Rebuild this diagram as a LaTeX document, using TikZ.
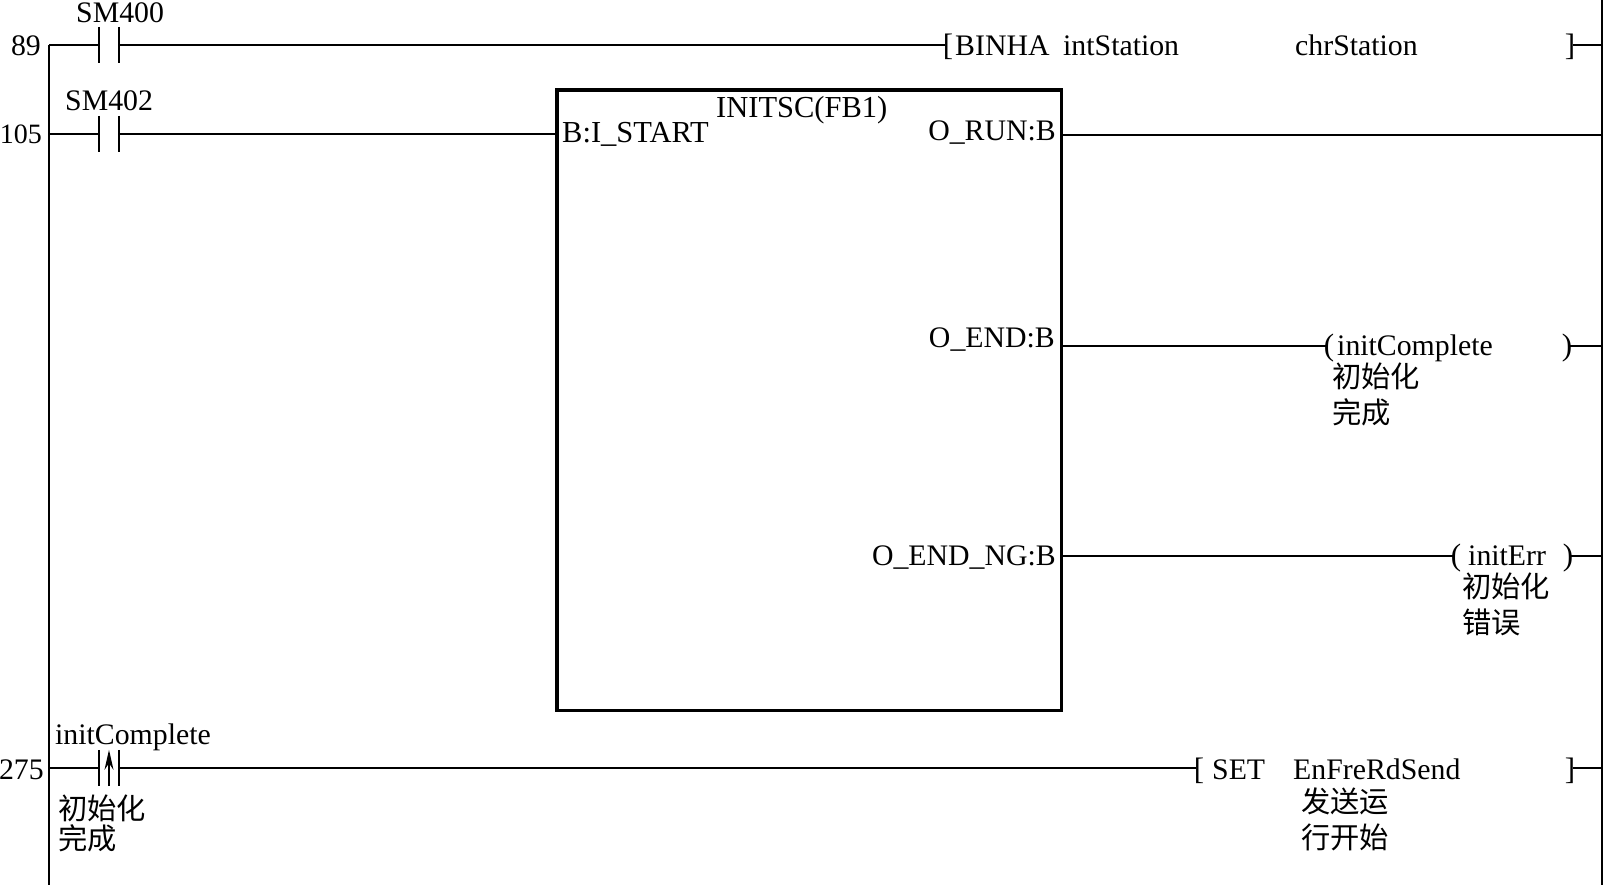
\documentclass[tikz,border=0pt]{standalone}
\usepackage{fontspec}
\setmainfont{Liberation Serif}
\newfontfamily\cjk{Noto Sans CJK SC}
\usetikzlibrary{arrows.meta}
\tikzset{
    lbl/.style={anchor=base west, inner sep=0pt, font=\fontsize{29.8}{32}\selectfont},
    lblr/.style={lbl, anchor=base east},
    wide/.style={font=\fontsize{30.5}{32}\selectfont},
    cn/.style={anchor=west, inner sep=0pt, font=\fontsize{29.3}{32}\selectfont\cjk},
    tip/.style={anchor=base, inner sep=0pt, inner xsep=-2pt, font=\fontsize{31}{32}\selectfont},
    contact/.style={minimum width=20pt, minimum height=36pt, inner sep=0pt},
    rung/.style={line width=1.6pt},
    bar/.style={line width=2.2pt},
    fb/.style={draw, line width=3.5pt, minimum width=504.5pt, minimum height=620.5pt, inner sep=0pt}
}
\begin{document}
\begin{tikzpicture}[x=1pt, y=-1pt]
    \useasboundingbox (0,0) rectangle (1603,885);

    % Rails
    \coordinate (railtop) at (49,45);
    \coordinate (railbot) at (49,885);
    \coordinate (rightop) at (1602,0);
    \coordinate (rightbot) at (1602,885);
    \draw[line width=1.3pt] (railtop) -- (railbot);
    \draw[line width=1.3pt] (rightop) -- (rightbot);
    \coordinate (r1) at (49,45);
    \coordinate (r2) at (49,134);
    \coordinate (r3) at (49,768);
    \coordinate (e1) at (1602,45);
    \coordinate (e2) at (1602,135);
    \coordinate (e3) at (1602,346);
    \coordinate (e4) at (1602,556);
    \coordinate (e5) at (1602,768);

    % Step numbers
    \node[lblr] (n89) at (41,56) {89};
    \node[lblr, font=\fontsize{28}{32}\selectfont] (n105) at (42,144) {105};
    \node[lblr] (n275) at (44,779) {275};

    % Contacts
    \node[contact] (c1) at (109,45) {};
    \node[contact] (c2) at (109,134) {};
    \node[contact] (c3) at (109,768) {};
    \foreach \c in {c1,c2,c3}
        \draw[bar] (\c.north west) -- (\c.south west) (\c.north east) -- (\c.south east);
    \draw[line width=1.5pt, -{Stealth[length=20pt,width=9pt]}] (c3.south) -- (c3.north);
    \node[lbl] (sm400) at (76,23) {SM400};
    \node[lbl] (sm402) at (65,111) {SM402};
    \node[lbl] (cmpA) at (55,744) {initComplete};
    \node[cn] (cmpB) at (58,808) {初始化};
    \node[cn] (cmpC) at (58,838) {完成};

    % Function block
    \node[fb] (fb1) at (809.25,400.25) {};
    \node[lbl, wide] (title) at (716,118) {INITSC(FB1)};
    \node[lbl, wide] (start) at (562,143) {B:I\_START};
    \node[lblr] (orun) at (1056,141) {O\_RUN:B};
    \node[lblr] (oend) at (1055,347) {O\_END:B};
    \node[lblr] (oendng) at (1056,565) {O\_END\_NG:B};
    \coordinate (pin1) at (fb1.west |- r2);
    \coordinate (pin2) at (fb1.east |- e2);
    \coordinate (pin3) at (fb1.east |- e3);
    \coordinate (pin4) at (fb1.east |- e4);

    % Row 89
    \node[tip] (bl1) at (948,56) {[};
    \node[lbl] (binha) at (955,56) {BINHA};
    \node[lbl] (ints) at (1063,56) {intStation};
    \node[lbl] (chrs) at (1295,56) {chrStation};
    \node[tip] (br1) at (1570,56) {]};
    \draw[rung] (r1) -- (c1.west);
    \draw[rung] (c1.east) -- (c1.east -| bl1.west);
    \draw[line width=1.3pt] (e1 -| br1.east) -- (e1);

    % Row 105
    \draw[rung] (r2) -- (c2.west);
    \draw[rung] (c2.east) -- (pin1);
    \draw[line width=2.2pt] (pin2) -- (e2);

    % Outputs
    \node[tip] (pl1) at (1329,355) {(};
    \node[lbl] (coil1) at (1337,355) {initComplete};
    \node[tip] (pr1) at (1567,355) {)};
    \node[cn] (coil1b) at (1332,376) {初始化};
    \node[cn] (coil1c) at (1332,412) {完成};
    \draw[rung] (pin3) -- (e3 -| pl1.west);
    \draw[rung] (e3 -| pr1.east) -- (e3);

    \node[tip] (pl2) at (1456,565) {(};
    \node[lbl] (coil2) at (1468,565) {initErr};
    \node[tip] (pr2) at (1568,565) {)};
    \node[cn] (coil2b) at (1462,586) {初始化};
    \node[cn] (coil2c) at (1462,622) {错误};
    \draw[rung] (pin4) -- (e4 -| pl2.west);
    \draw[rung] (e4 -| pr2.east) -- (e4);

    % Row 275
    \node[tip] (bl2) at (1199,779) {[};
    \node[lbl] (setk) at (1212,779) {SET};
    \node[lbl] (enfre) at (1293,779) {EnFreRdSend};
    \node[tip] (br2) at (1570,779) {]};
    \node[cn] (sendA) at (1301,801) {发送运};
    \node[cn] (sendB) at (1301,837) {行开始};
    \draw[rung] (r3) -- (c3.west);
    \draw[rung] (c3.east) -- (c3.east -| bl2.west);
    \draw[rung] (e5 -| br2.east) -- (e5);
\end{tikzpicture}
\end{document}
